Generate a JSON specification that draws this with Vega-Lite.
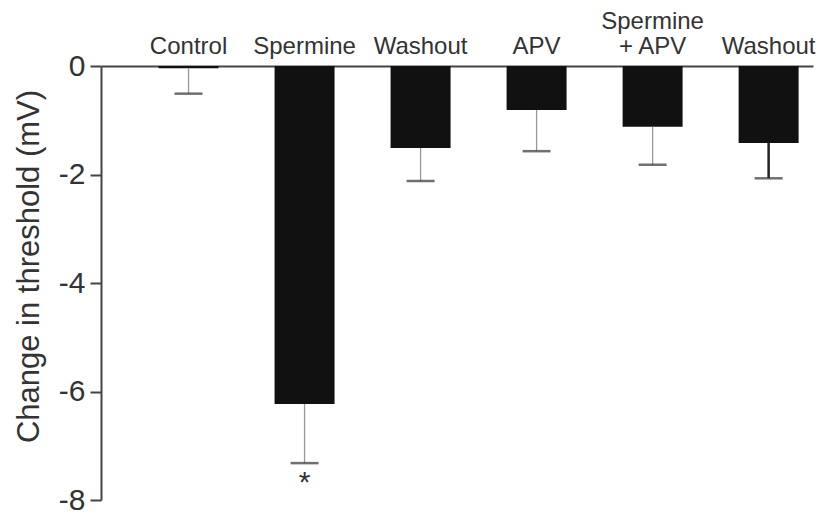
{
  "$schema": "https://vega.github.io/schema/vega-lite/v6.json",
  "autosize": {"type": "none"},
  "width": 712,
  "height": 434,
  "padding": {"left": 101, "top": 66, "right": 13, "bottom": 25},
  "background": "white",
  "config": {
    "view": {"stroke": null},
    "font": "Liberation Sans"
  },
  "data": {
    "values": [
      {"key": "Control", "mean": -0.04, "err": -0.51, "sig": ""},
      {"key": "Spermine", "mean": -6.23, "err": -7.32, "sig": "*"},
      {"key": "Washout1", "mean": -1.51, "err": -2.12, "sig": ""},
      {"key": "APV", "mean": -0.81, "err": -1.57, "sig": ""},
      {"key": "SpermineAPV", "mean": -1.12, "err": -1.82, "sig": ""},
      {"key": "Washout2", "mean": -1.42, "err": -2.07, "sig": ""}
    ]
  },
  "encoding": {
    "x": {
      "field": "key",
      "type": "nominal",
      "sort": null,
      "scale": {"paddingInner": 0.483, "paddingOuter": 0.31, "align": 0.8},
      "axis": {
        "orient": "top",
        "title": null,
        "ticks": false,
        "labelAngle": 0,
        "labelFontSize": 24,
        "labelColor": "#333333",
        "labelPadding": {"condition": {"test": "datum.value == 'SpermineAPV'", "value": 33}, "value": 8},
        "labelBaseline": "bottom",
        "labelLineHeight": 25,
        "labelExpr": "datum.value == 'Control' ? 'Control' : datum.value == 'Spermine' ? 'Spermine' : datum.value == 'APV' ? 'APV' : datum.value == 'SpermineAPV' ? ['Spermine', '+ APV'] : 'Washout'",
        "domainColor": "#444444",
        "domainWidth": 2,
        "labelOverlap": false
      }
    }
  },
  "layer": [
    {
      "mark": {"type": "bar", "color": "#111111"},
      "encoding": {
        "y": {
          "field": "mean",
          "type": "quantitative",
          "scale": {"domain": [-8, 0], "nice": false},
          "axis": {
            "values": [0, -2, -4, -6, -8],
            "labelExpr": "replace(datum.label, '\u2212', '-')",
            "title": "Change in threshold (mV)",
            "titleFontSize": 31,
            "titleFontWeight": "normal",
            "titleColor": "#333333",
            "titleAngle": -90,
            "titleBaseline": "middle",
            "titleAlign": "center",
            "titleX": -72,
            "titleY": 200,
            "labelFontSize": 30,
            "labelColor": "#333333",
            "labelPadding": 5,
            "tickSize": 11,
            "tickWidth": 2,
            "tickColor": "#444444",
            "domainColor": "#444444",
            "domainWidth": 2,
            "grid": false
          }
        }
      }
    },
    {
      "mark": {"type": "rule"},
      "encoding": {
        "y": {"field": "mean", "type": "quantitative"},
        "y2": {"field": "err"},
        "color": {
          "condition": {"test": "datum.key == 'Washout2'", "value": "#222222"},
          "value": "#999999"
        },
        "strokeWidth": {
          "condition": {"test": "datum.key == 'Washout2'", "value": 2.5},
          "value": 1.3
        }
      }
    },
    {
      "mark": {"type": "tick", "color": "#333333", "size": 28, "thickness": 2.5},
      "encoding": {
        "y": {"field": "err", "type": "quantitative"}
      }
    },
    {
      "transform": [{"filter": "datum.sig != ''"}],
      "mark": {"type": "text", "fontSize": 30, "dy": 20, "color": "#333333"},
      "encoding": {
        "y": {"field": "err", "type": "quantitative"},
        "text": {"field": "sig"}
      }
    }
  ]
}
